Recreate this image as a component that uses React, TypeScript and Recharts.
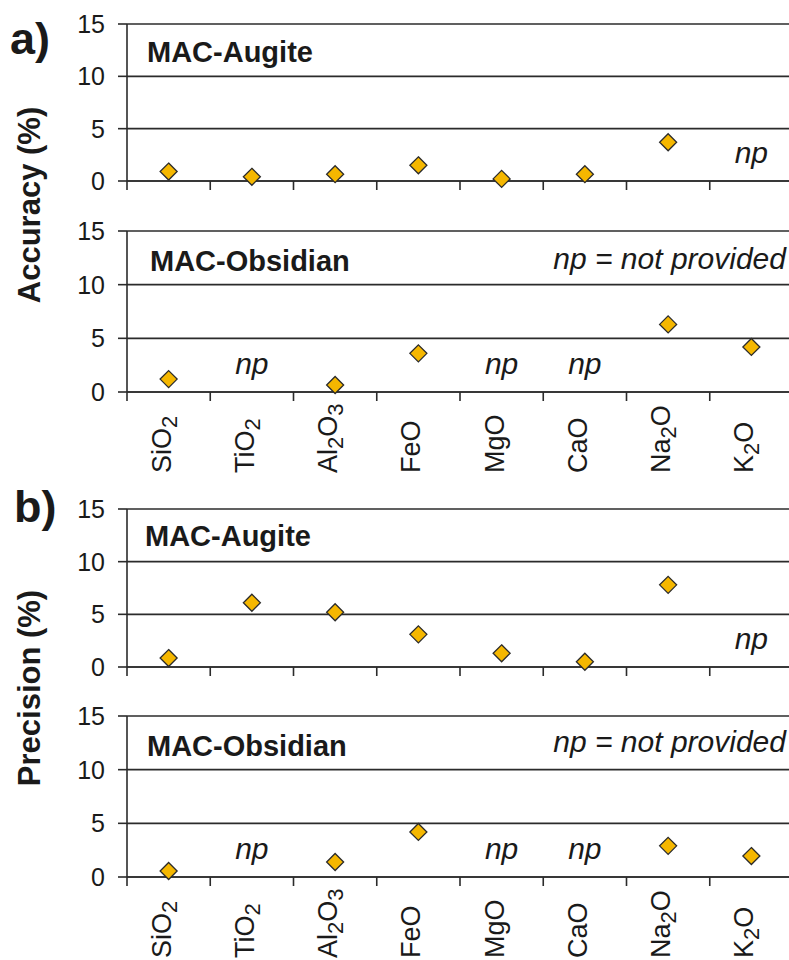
import { ScatterChart, Scatter, XAxis, YAxis, CartesianGrid } from 'recharts'

// oxide categories shown along the x axis
const categories = ['SiO2', 'TiO2', 'Al2O3', 'FeO', 'MgO', 'CaO', 'Na2O', 'K2O']
const yTicks = [0, 5, 10, 15]

// values in %, null = not provided (np)
const accuracyAugite = [0.9, 0.4, 0.65, 1.5, 0.2, 0.65, 3.7, null]
const accuracyObsidian = [1.2, null, 0.65, 3.6, null, null, 6.3, 4.2]
const precisionAugite = [0.85, 6.1, 5.2, 3.1, 1.3, 0.5, 7.8, null]
const precisionObsidian = [0.56, null, 1.4, 4.2, null, null, 2.9, 1.95]

const LINE = '#2b2b2b'
const TEXT = '#1a1a1a'
const FILL = '#F5B700'
const NP_Y = 1.7
const TOP = 20

const bounds = categories.map((_, i) => i).concat([categories.length])
const centers = categories.map((_, i) => i + 0.5)

const Diamond = (props: any) => {
  const { cx, cy } = props
  if (cx == null || cy == null) return null
  const r = 8.5
  return (
    <polygon
      points={`${cx},${cy - r} ${cx + r},${cy} ${cx},${cy + r} ${cx - r},${cy}`}
      fill={FILL}
      stroke={LINE}
      strokeWidth={1.3}
    />
  )
}

const NpMark = (props: any) => {
  const { cx, cy } = props
  if (cx == null || cy == null) return null
  return (
    <text x={cx} y={cy} textAnchor="middle" fontSize={30} fontStyle="italic" fill={TEXT}>
      np
    </text>
  )
}

// split "Al2O3" into text parts with subscript digits
function chemParts(name: string) {
  return name.split(/(\d)/).filter(s => s !== '')
}

const ChemTick = (props: any) => {
  const { x, y, payload } = props
  const idx = Math.round(payload.value - 0.5)
  const name = categories[idx]
  if (!name) return null
  const parts = chemParts(name)
  let shifted = false
  return (
    <g transform={`translate(${x + 2},${y + 63}) rotate(-90)`}>
      <text x={0} y={0} dy={9} textAnchor="start" fontSize={27} fill={TEXT}>
        {parts.map((p, i) => {
          const isNum = /^\d$/.test(p)
          let dy = 0
          if (isNum && !shifted) { dy = 6; shifted = true }
          else if (!isNum && shifted) { dy = -6; shifted = false }
          return (
            <tspan key={i} dy={dy} fontSize={isNum ? 22 : 27}>{p}</tspan>
          )
        })}
      </text>
    </g>
  )
}

function Panel({ values, top, plotHeight, showLabels }: { values: (number | null)[]; top: number; plotHeight: number; showLabels: boolean }) {
  const points = values
    .map((v, i) => (v == null ? null : { x: centers[i], y: v }))
    .filter(Boolean) as { x: number; y: number }[]
  const missing = values
    .map((v, i) => (v == null ? { x: centers[i], y: NP_Y } : null))
    .filter(Boolean) as { x: number; y: number }[]
  const labelH = showLabels ? 110 : 0
  const bottom = showLabels ? 0 : 14
  const height = TOP + plotHeight + 10 + labelH + bottom
  const labId = showLabels ? 'lab' : 0
  return (
    <div style={{ position: 'absolute', left: 0, top: top - TOP }}>
      <ScatterChart width={793} height={height} margin={{ top: TOP, right: 0, bottom, left: 0 }}>
        <CartesianGrid vertical={false} stroke={LINE} strokeWidth={1.6} />
        <XAxis
          type="number"
          dataKey="x"
          domain={[0, categories.length]}
          ticks={bounds}
          tickSize={9}
          tickFormatter={() => ''}
          height={10}
          axisLine={{ stroke: LINE, strokeWidth: 1.6 }}
          tickLine={{ stroke: LINE, strokeWidth: 1.6 }}
        />
        {showLabels && (
          <XAxis
            xAxisId="lab"
            type="number"
            dataKey="x"
            domain={[0, categories.length]}
            ticks={centers}
            axisLine={false}
            tickLine={false}
            height={labelH}
            interval={0}
            tick={ChemTick}
          />
        )}
        <YAxis
          type="number"
          dataKey="y"
          domain={[0, 15]}
          ticks={yTicks}
          width={127}
          tickSize={9}
          tickMargin={13}
          interval={0}
          tick={{ fontSize: 25, fill: TEXT }}
          axisLine={{ stroke: LINE, strokeWidth: 1.6 }}
          tickLine={{ stroke: LINE, strokeWidth: 1.6 }}
        />
        <Scatter data={points} xAxisId={labId} shape={Diamond} isAnimationActive={false} />
        <Scatter data={missing} shape={NpMark} isAnimationActive={false} />
      </ScatterChart>
    </div>
  )
}

export default function App() {
  return (
    <div
      style={{
        position: 'absolute',
        left: 0,
        top: 0,
        width: 789,
        height: 960,
        overflow: 'hidden',
        background: '#fff',
        fontFamily: '"Liberation Sans", Arial, sans-serif',
      }}
    >
      <Panel values={accuracyAugite} top={24} plotHeight={157} showLabels={false} />
      <Panel values={accuracyObsidian} top={231} plotHeight={161} showLabels={true} />
      <Panel values={precisionAugite} top={509} plotHeight={158} showLabels={false} />
      <Panel values={precisionObsidian} top={716} plotHeight={161} showLabels={true} />
      <svg width={789} height={960} style={{ position: 'absolute', left: 0, top: 0, pointerEvents: 'none' }}>
        <g fill={TEXT}>
          <text x={10} y={54} fontSize={45} fontWeight="bold">a)</text>
          <text x={14} y={522} fontSize={45} fontWeight="bold">b)</text>
          <text x={40} y={205} fontSize={31} fontWeight="bold" textAnchor="middle" transform="rotate(-90 40 205)">Accuracy (%)</text>
          <text x={40} y={688} fontSize={31} fontWeight="bold" textAnchor="middle" transform="rotate(-90 40 688)">Precision (%)</text>
          <text x={147} y={62} fontSize={29} fontWeight="bold">MAC-Augite</text>
          <text x={150} y={271} fontSize={29} fontWeight="bold">MAC-Obsidian</text>
          <text x={786} y={269} fontSize={30} fontStyle="italic" textAnchor="end">np = not provided</text>
          <text x={145} y={546} fontSize={29} fontWeight="bold">MAC-Augite</text>
          <text x={147} y={756} fontSize={29} fontWeight="bold">MAC-Obsidian</text>
          <text x={786} y={752} fontSize={30} fontStyle="italic" textAnchor="end">np = not provided</text>
        </g>
      </svg>
    </div>
  )
}
